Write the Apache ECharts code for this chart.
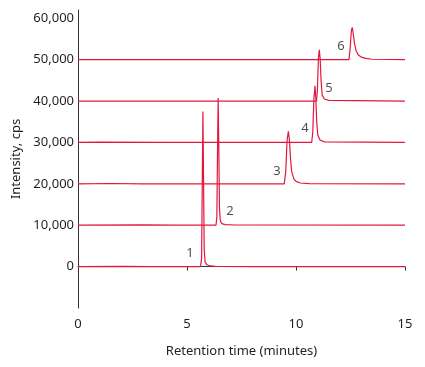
<!DOCTYPE html>
<html><head><meta charset="utf-8">
<script src="https://cdn.jsdelivr.net/npm/echarts@6/dist/echarts.min.js"></script>
<style>html,body{margin:0;padding:0;background:#fff}#c{width:425px;height:367px}</style>
</head><body><div id="c"></div>
<script>
// Chromatogram traces: [retention time (min), intensity (cps, offset included)]
const trace1 = [[0,0],[2.1,60],[3.4,0],[5.62,0],[5.67,2000],[5.70,20000],[5.73,37500],[5.76,20000],[5.79,4000],[5.83,1200],[5.90,500],[6.00,250],[6.30,80],[8,0],[15,0]];
const trace2 = [[0,10000],[3.0,10060],[4.5,10000],[6.33,10000],[6.37,12000],[6.40,28000],[6.43,40750],[6.46,28000],[6.49,14000],[6.53,11000],[6.60,10400],[6.75,10150],[7.20,10050],[15,10000]];
const trace3 = [[0,20000],[1.5,20080],[3.0,20000],[9.46,20000],[9.53,23000],[9.59,30500],[9.65,32700],[9.70,30500],[9.75,26000],[9.80,23000],[9.90,21200],[10.00,20600],[10.20,20200],[10.60,20050],[15,20000]];
const trace4 = [[0,30000],[1.0,30080],[4.0,30000],[10.72,30000],[10.77,32500],[10.82,40500],[10.87,43700],[10.91,40500],[10.95,35000],[11.00,31800],[11.10,30600],[11.30,30150],[15,30000]];
const trace5 = [[0,40000],[10.94,40000],[10.98,42500],[11.03,50500],[11.07,52400],[11.11,50000],[11.15,45000],[11.20,41500],[11.30,40500],[11.50,40150],[15,40000]];
const trace6 = [[0,50000],[12.43,50000],[12.48,52500],[12.54,57000],[12.58,57800],[12.62,56500],[12.68,54000],[12.75,52300],[12.85,51200],[13.00,50600],[13.20,50300],[13.50,50100],[15,50000]];
const traces = [trace1, trace2, trace3, trace4, trace5, trace6];
// Peak number labels: [time, intensity, text]
const peakLabels = [[5.14,3150,'1'],[6.97,13300,'2'],[9.13,23000,'3'],[10.41,33400,'4'],[11.51,43100,'5'],[12.06,53300,'6']];
const xTicks = [0,5,10,15];
const yTicks = [0,10000,20000,30000,40000,50000,60000];

const FONT = '"Noto Sans", sans-serif';
const RED = '#e2173f';
const TXT = '#231f20';
const chart = echarts.init(document.getElementById('c'), null, {renderer:'canvas'});
const series = traces.map(t => ({
  type:'line', data:t, showSymbol:false, symbol:'none', smooth:false,
  lineStyle:{color:RED, width:1.2}, silent:true, z:2
}));
series.push({
  type:'scatter', data:peakLabels.map(p=>({value:[p[0],p[1]], name:p[2]})),
  symbolSize:0, silent:true,
  label:{show:true, position:'inside', formatter:p=>p.name, color:TXT, fontSize:13, fontFamily:FONT}
});
chart.setOption({
  animation:false,
  backgroundColor:'#fff',
  grid:{left:78, right:20, top:10, bottom:59, containLabel:false},
  xAxis:{type:'value', min:0, max:15, interval:5,
    name:'Retention time (minutes)', nameLocation:'middle', nameGap:37,
    nameTextStyle:{color:TXT, fontSize:13, fontFamily:FONT},
    axisLine:{lineStyle:{color:'#333', width:1}},
    axisTick:{show:true, length:4, lineStyle:{color:'#333'}},
    axisLabel:{color:TXT, fontSize:13, fontFamily:FONT, margin:10,
      formatter:v=>xTicks.includes(v)?String(v):''},
    splitLine:{show:false}},
  yAxis:{type:'value', min:-10000, max:62000, interval:10000,
    name:'Intensity, cps', nameLocation:'middle', nameGap:55,
    nameTextStyle:{color:TXT, fontSize:13, fontFamily:FONT},
    axisLine:{show:true, lineStyle:{color:'#333', width:1}},
    axisTick:{show:false},
    axisLabel:{color:TXT, fontSize:13, fontFamily:FONT, margin:4,
      formatter:v=>yTicks.includes(v)?v.toLocaleString('en-US'):''},
    splitLine:{show:false}},
  series:series
});
</script></body></html>
